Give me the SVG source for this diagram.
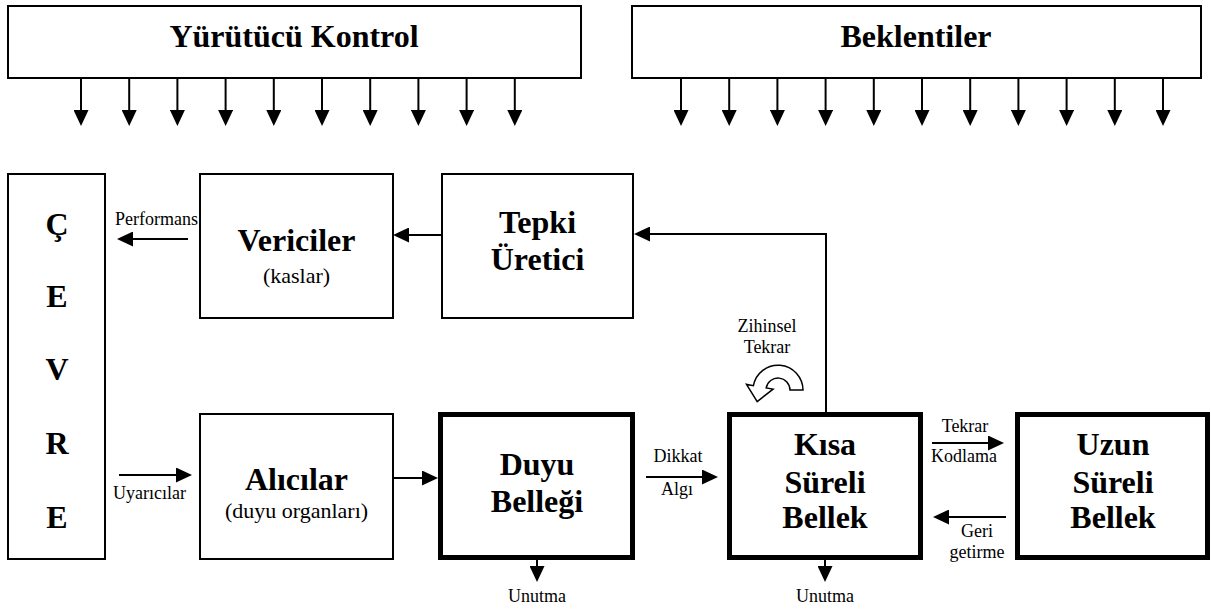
<svg xmlns="http://www.w3.org/2000/svg" width="1211" height="610" viewBox="0 0 1211 610" font-family="'Liberation Serif', 'DejaVu Serif', serif">
<style>
.box{fill:#fff;stroke:#000;stroke-width:2}
.tbox{fill:#fff;stroke:#000;stroke-width:5}
text{font-family:'Liberation Serif','DejaVu Serif',serif;fill:#000}
.lbl{font-weight:bold;font-size:32px;text-anchor:middle}
.sub{font-size:22px;text-anchor:middle}
.sm{font-size:18px;text-anchor:middle}
.st{text-anchor:start}
.ar{fill:none;stroke:#000;stroke-width:2;marker-end:url(#ah)}
</style>
<defs>
<marker id="ah" markerUnits="userSpaceOnUse" markerWidth="16" markerHeight="15" refX="0" refY="7.5" orient="auto" viewBox="0 0 16 15">
<path d="M0,0 L16,7.5 L0,15 Z" fill="#000"/>
</marker>
</defs>
<rect width="1211" height="610" fill="#fff"/>

<g id="yurutucu-kontrol">
<rect class="box" x="8" y="6" width="573" height="72"/>
<text class="lbl" x="294" y="47">Yürütücü Kontrol</text>
</g>
<g id="beklentiler">
<rect class="box" x="632" y="6" width="569" height="72"/>
<text class="lbl" x="916" y="47">Beklentiler</text>
</g>
<g id="cevre">
<rect class="box" x="8" y="174" width="97" height="385"/>
<text class="lbl" x="57" y="235">Ç</text>
<text class="lbl" x="57" y="307">E</text>
<text class="lbl" x="57" y="380">V</text>
<text class="lbl" x="57" y="454">R</text>
<text class="lbl" x="57" y="528">E</text>
</g>
<g id="vericiler">
<rect class="box" x="200" y="174" width="193" height="144"/>
<text class="lbl" x="296.5" y="251">Vericiler</text>
<text class="sub" x="296.5" y="283">(kaslar)</text>
</g>
<g id="tepki-uretici">
<rect class="box" x="442" y="174" width="191" height="144"/>
<text class="lbl" x="537.5" y="233">Tepki</text>
<text class="lbl" x="537.5" y="270">Üretici</text>
</g>
<g id="alicilar">
<rect class="box" x="200" y="414" width="193" height="145"/>
<text class="lbl" x="296.5" y="490">Alıcılar</text>
<text class="sub" x="296.5" y="518">(duyu organları)</text>
</g>
<g id="duyu-bellegi">
<rect class="tbox" x="440.5" y="414.5" width="192" height="143"/>
<text class="lbl" x="537" y="475">Duyu</text>
<text class="lbl" x="537" y="512">Belleği</text>
</g>
<g id="kisa-sureli-bellek">
<rect class="tbox" x="729.5" y="414.5" width="191" height="143"/>
<text class="lbl" x="825" y="455">Kısa</text>
<text class="lbl" x="825" y="493">Süreli</text>
<text class="lbl" x="825" y="528">Bellek</text>
</g>
<g id="uzun-sureli-bellek">
<rect class="tbox" x="1017.5" y="414.5" width="190" height="143"/>
<text class="lbl" x="1113" y="455">Uzun</text>
<text class="lbl" x="1113" y="493">Süreli</text>
<text class="lbl" x="1113" y="528">Bellek</text>
</g>
<g id="zihinsel-tekrar">
<text class="sm" x="767" y="332">Zihinsel</text>
<text class="sm" x="767" y="353">Tekrar</text>
<path d="M790,390 L803,390 A25,25 0 0 0 753.4,385.7 L746.5,384.4 L757.2,401.6 L773.1,389.1 L766.2,387.9 A12,12 0 0 1 790,390 Z" fill="#fff" stroke="#000" stroke-width="1.5"/>
</g>

<g id="connectors">
<path class="ar" d="M81,78 V110"/>
<path class="ar" d="M129.2,78 V110"/>
<path class="ar" d="M177.4,78 V110"/>
<path class="ar" d="M225.6,78 V110"/>
<path class="ar" d="M273.8,78 V110"/>
<path class="ar" d="M322,78 V110"/>
<path class="ar" d="M370.2,78 V110"/>
<path class="ar" d="M418.4,78 V110"/>
<path class="ar" d="M466.6,78 V110"/>
<path class="ar" d="M514.8,78 V110"/>

<path class="ar" d="M681,78 V110"/>
<path class="ar" d="M729.2,78 V110"/>
<path class="ar" d="M777.4,78 V110"/>
<path class="ar" d="M825.6,78 V110"/>
<path class="ar" d="M873.8,78 V110"/>
<path class="ar" d="M922,78 V110"/>
<path class="ar" d="M970.2,78 V110"/>
<path class="ar" d="M1018.4,78 V110"/>
<path class="ar" d="M1066.6,78 V110"/>
<path class="ar" d="M1114.8,78 V110"/>
<path class="ar" d="M1163,78 V110"/>

<path class="ar" d="M188,239 H133"/>
<path class="ar" d="M442,235 H409"/>
<path class="ar" d="M826,412 V234 H650"/>
<path class="ar" d="M119,475 H176"/>
<path class="ar" d="M393,478 H422"/>
<path class="ar" d="M646,477 H702"/>
<path class="ar" d="M932,443 H988"/>
<path class="ar" d="M1006,517 H949"/>
<path class="ar" d="M537,560 V566"/>
<path class="ar" d="M825,560 V566"/>

<text class="sm st" x="115" y="225">Performans</text>
<text class="sm st" x="113" y="499">Uyarıcılar</text>
<text class="sm" x="678" y="462">Dikkat</text>
<text class="sm" x="677" y="495">Algı</text>
<text class="sm" x="965" y="432">Tekrar</text>
<text class="sm" x="964" y="462">Kodlama</text>
<text class="sm" x="977" y="537">Geri</text>
<text class="sm" x="977" y="558">getirme</text>
<text class="sm" x="537" y="602">Unutma</text>
<text class="sm" x="825" y="602">Unutma</text>
</g>
</svg>
